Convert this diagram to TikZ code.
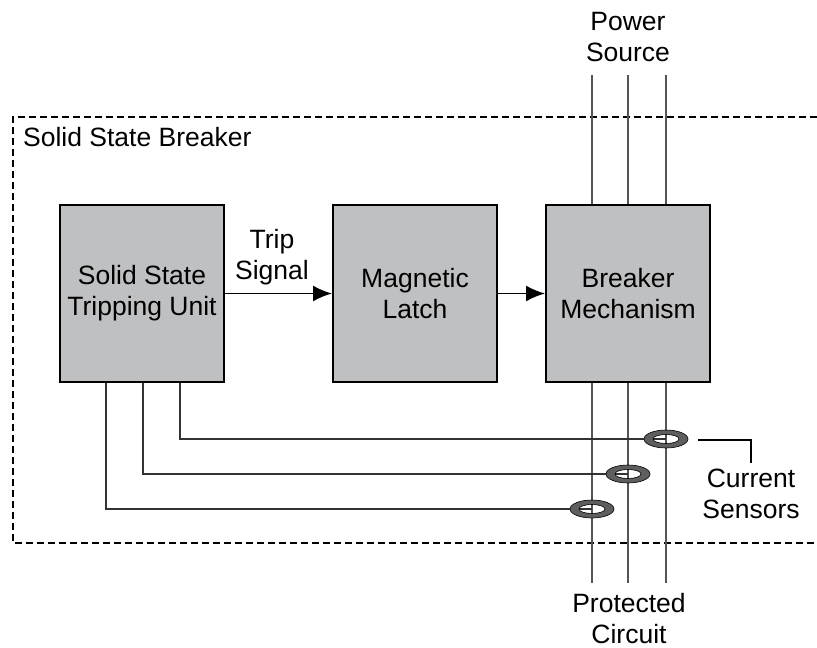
\documentclass[tikz,border=0pt]{standalone}
\usepackage{fontspec}
\setmainfont{Liberation Sans}
\usetikzlibrary{arrows.meta,positioning}
\definecolor{boxgray}{HTML}{BFC0C2}
\definecolor{ringgray}{HTML}{5E5E5E}
\definecolor{wiregray}{HTML}{555555}
\begin{document}
\begin{tikzpicture}[x=1pt,y=-1pt,>=Latex,
  font=\fontsize{26.5}{31}\selectfont,
  block/.style={draw=black,line width=2pt,fill=boxgray,minimum width=164pt,minimum height=177pt,align=center,inner sep=0pt},
  wire/.style={draw=wiregray,line width=1.4pt},
  lead/.style={draw=black!80,line width=1.4pt},
  sig/.style={line width=1.8pt,-{Latex[length=19pt,width=16pt]}},
  ring/.style={fill=ringgray,draw=black,line width=0.6pt,even odd rule},
  lbl/.style={align=center,inner sep=0pt}]
\useasboundingbox (0,0) rectangle (817,648);
% breaker enclosure
\draw[line width=1.5pt,dash pattern=on 7pt off 4pt] (817,117) -| (13,543) -- (817,543);
\node[lbl,anchor=base west] (ssb) at (23,146) {Solid State Breaker};
% power lines
\coordinate (pt1) at (592,75);
\coordinate (pt2) at (628,75);
\coordinate (pt3) at (666,75);
\coordinate (pb1) at (592,583);
\coordinate (pb2) at (628,583);
\coordinate (pb3) at (666,583);
\foreach \i in {1,2,3}
  \draw[wire] (pt\i) -- (pb\i);
\node[lbl] (ps) at (628,37.5) {Power\\Source};
\node[lbl] (pc) at (629,619) {Protected\\Circuit};
% blocks
\node[block] (tu) at (142,293.5) {Solid State\\Tripping Unit};
\node[block] (ml) at (415,293.5) {Magnetic\\Latch};
\node[block] (bm) at (628,293.5) {Breaker\\Mechanism};
\draw[sig] (tu.east) -- (ml.west);
\draw[sig] (ml.east) -- (bm.west);
\node[lbl] (ts) at (272,257) {Trip\\Signal};
% current sensors
\coordinate (s1) at (666,439);
\coordinate (s2) at (628,474);
\coordinate (s3) at (592,509);
\draw[lead] ([xshift=38pt]tu.south) |- (s1);
\draw[lead] ([xshift=1pt]tu.south) |- (s2);
\draw[lead] ([xshift=-36pt]tu.south) |- (s3);
\foreach \s in {s1,s2,s3}
  \path[ring] (\s) ellipse [x radius=22pt,y radius=9pt] (\s) ellipse [x radius=13pt,y radius=4.5pt];
\node[lbl] (cs) at (751,494) {Current\\Sensors};
\coordinate (cb) at (698,440);
\draw[line width=1.5pt] (cb) -| ([yshift=6pt]cs.north);
\end{tikzpicture}
\end{document}
